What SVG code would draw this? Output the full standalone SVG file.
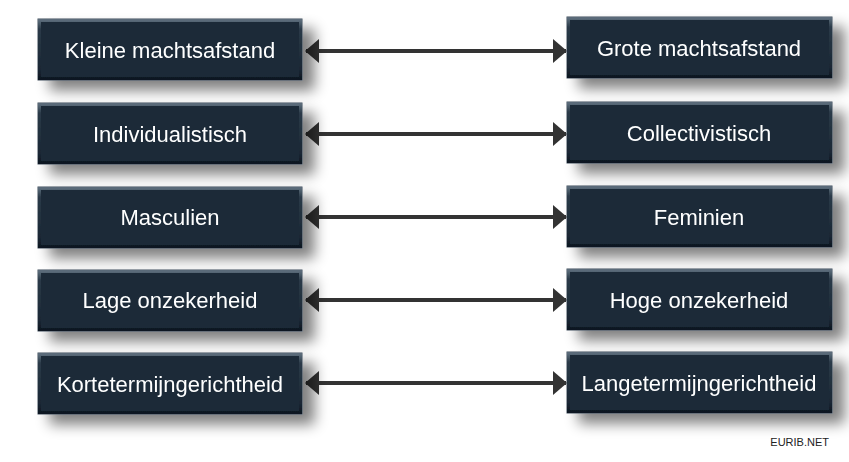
<svg xmlns="http://www.w3.org/2000/svg" width="849" height="462" viewBox="0 0 849 462">
<defs>
<style>
.box{fill:#1b2b39;stroke:#3d4d5b;stroke-width:1}
.bev{fill:none;stroke:url(#bevel);stroke-width:3}
.lbl{font-family:"Liberation Sans",Arial,sans-serif;font-size:22px;fill:#ffffff;text-anchor:middle;dominant-baseline:central}
.con{stroke:#333333;stroke-width:4;fill:none;marker-start:url(#ah);marker-end:url(#ah)}
</style>
<linearGradient id="bevel" x1="0" y1="0" x2="0" y2="1">
<stop offset="0" stop-color="#5a6b79"/>
<stop offset="0.15" stop-color="#2a3a48"/>
<stop offset="0.85" stop-color="#1a2734"/>
<stop offset="1" stop-color="#0e1822"/>
</linearGradient>
<filter id="sh" x="-10%" y="-30%" width="130%" height="180%">
<feGaussianBlur in="SourceAlpha" stdDeviation="7"/>
<feOffset dx="12" dy="10" result="b"/>
<feComponentTransfer><feFuncA type="linear" slope="0.5"/></feComponentTransfer>
<feMerge><feMergeNode/><feMergeNode in="SourceGraphic"/></feMerge>
</filter>
<marker id="ah" markerWidth="14" markerHeight="24" refX="13" refY="12" orient="auto-start-reverse" markerUnits="userSpaceOnUse">
<path d="M0,0 L14,12 L0,24 Z" fill="#333333"/>
</marker>
</defs>
<rect width="849" height="462" fill="#ffffff"/>
<g id="connectors">
<line class="con" x1="306" y1="51" x2="566" y2="51"/>
<line class="con" x1="306" y1="134" x2="566" y2="134"/>
<line class="con" x1="306" y1="217" x2="566" y2="217"/>
<line class="con" x1="306" y1="300" x2="566" y2="300"/>
<line class="con" x1="306" y1="383" x2="566" y2="383"/>
</g>
<g id="n1" filter="url(#sh)"><rect class="box" x="38" y="19" width="264" height="61"/><rect class="bev" x="39.5" y="20.5" width="261" height="58"/><text class="lbl" x="170" y="50">Kleine machtsafstand</text></g>
<g id="n2" filter="url(#sh)"><rect class="box" x="38" y="103" width="264" height="61"/><rect class="bev" x="39.5" y="104.5" width="261" height="58"/><text class="lbl" x="170" y="134">Individualistisch</text></g>
<g id="n3" filter="url(#sh)"><rect class="box" x="38" y="187" width="264" height="61"/><rect class="bev" x="39.5" y="188.5" width="261" height="58"/><text class="lbl" x="170" y="217">Masculien</text></g>
<g id="n4" filter="url(#sh)"><rect class="box" x="38" y="270" width="264" height="61"/><rect class="bev" x="39.5" y="271.5" width="261" height="58"/><text class="lbl" x="170" y="300">Lage onzekerheid</text></g>
<g id="n5" filter="url(#sh)"><rect class="box" x="38" y="353" width="264" height="61"/><rect class="bev" x="39.5" y="354.5" width="261" height="58"/><text class="lbl" x="170" y="384">Kortetermijngerichtheid</text></g>
<g id="n6" filter="url(#sh)"><rect class="box" x="567" y="17" width="265" height="61"/><rect class="bev" x="568.5" y="18.5" width="262" height="58"/><text class="lbl" x="699" y="48">Grote machtsafstand</text></g>
<g id="n7" filter="url(#sh)"><rect class="box" x="567" y="102" width="265" height="61"/><rect class="bev" x="568.5" y="103.5" width="262" height="58"/><text class="lbl" x="699" y="133">Collectivistisch</text></g>
<g id="n8" filter="url(#sh)"><rect class="box" x="567" y="186" width="265" height="61"/><rect class="bev" x="568.5" y="187.5" width="262" height="58"/><text class="lbl" x="699" y="217">Feminien</text></g>
<g id="n9" filter="url(#sh)"><rect class="box" x="567" y="269" width="265" height="61"/><rect class="bev" x="568.5" y="270.5" width="262" height="58"/><text class="lbl" x="699" y="300">Hoge onzekerheid</text></g>
<g id="n10" filter="url(#sh)"><rect class="box" x="567" y="352" width="265" height="61"/><rect class="bev" x="568.5" y="353.5" width="262" height="58"/><text class="lbl" x="699" y="383">Langetermijngerichtheid</text></g>
<text x="829" y="446" font-family="'Liberation Sans',Arial,sans-serif" font-size="11" fill="#222222" text-anchor="end">EURIB.NET</text>
</svg>
